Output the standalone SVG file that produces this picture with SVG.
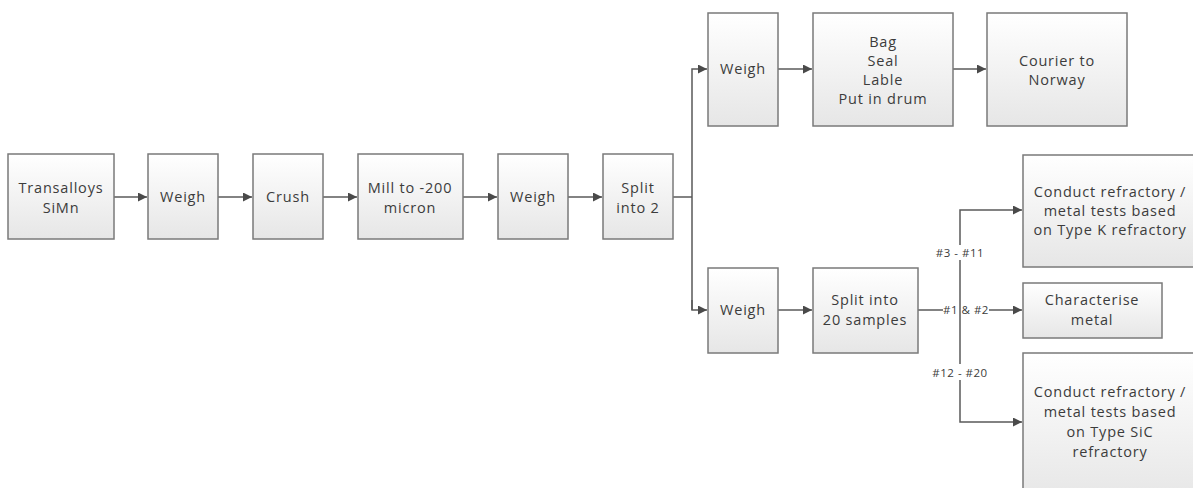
<svg xmlns="http://www.w3.org/2000/svg" width="1193" height="488" viewBox="0 0 1193 488">
<style>
.box{fill:url(#g);stroke:#7a7a7a;stroke-width:1.5}
.t{font-family:"Open Sans","Liberation Sans",sans-serif;font-size:14.5px;letter-spacing:0.8px;fill:#3c3c3c;text-anchor:middle}
.l{font-family:"Open Sans","Liberation Sans",sans-serif;font-size:11.5px;letter-spacing:0.5px;fill:#3c3c3c;text-anchor:middle}
.c{fill:none;stroke:#5a5a5a;stroke-width:1.5}
</style>
<defs>
<linearGradient id="g" x1="0" y1="0" x2="0" y2="1"><stop offset="0" stop-color="#ffffff"/><stop offset="1" stop-color="#e6e6e6"/></linearGradient>
<marker id="a" viewBox="0 0 10 10" refX="10" refY="5" markerWidth="10" markerHeight="9" markerUnits="userSpaceOnUse" orient="auto"><path d="M0,0 L10,5 L0,10 z" fill="#4a4a4a"/></marker>
</defs>
<rect width="1193" height="488" fill="#fff"/>
<g id="connectors">
<path class="c" d="M114,197 H147" marker-end="url(#a)"/>
<path class="c" d="M218,197 H252" marker-end="url(#a)"/>
<path class="c" d="M323,197 H357" marker-end="url(#a)"/>
<path class="c" d="M463,197 H497" marker-end="url(#a)"/>
<path class="c" d="M568,197 H602" marker-end="url(#a)"/>
<path class="c" d="M673,197 H692"/>
<path class="c" d="M692,310 V69 H707" marker-end="url(#a)"/>
<path class="c" d="M692,300 V310 H707" marker-end="url(#a)"/>
<path class="c" d="M778,69 H812" marker-end="url(#a)"/>
<path class="c" d="M953,69 H986" marker-end="url(#a)"/>
<path class="c" d="M778,310 H812" marker-end="url(#a)"/>
<path class="c" d="M918,310 H943"/>
<path class="c" d="M989,310 H1022" marker-end="url(#a)"/>
<path class="c" d="M960,245 V210 H1022" marker-end="url(#a)"/>
<path class="c" d="M960,260 V364"/>
<path class="c" d="M960,380 V422 H1022" marker-end="url(#a)"/>
<text class="l" x="960" y="257">#3 - #11</text>
<text class="l" x="966" y="314">#1 &amp; #2</text>
<text class="l" x="960" y="377">#12 - #20</text>
</g>
<g id="n1"><rect class="box" x="8" y="154" width="106" height="85"/><text class="t" x="61" y="193">Transalloys</text><text class="t" x="61" y="213">SiMn</text></g>
<g id="n2"><rect class="box" x="148" y="154" width="70" height="85"/><text class="t" x="183" y="202">Weigh</text></g>
<g id="n3"><rect class="box" x="253" y="154" width="70" height="85"/><text class="t" x="288" y="202">Crush</text></g>
<g id="n4"><rect class="box" x="358" y="154" width="105" height="85"/><text class="t" x="410" y="193">Mill to -200</text><text class="t" x="410" y="213">micron</text></g>
<g id="n5"><rect class="box" x="498" y="154" width="70" height="85"/><text class="t" x="533" y="202">Weigh</text></g>
<g id="n6"><rect class="box" x="603" y="154" width="70" height="85"/><text class="t" x="638" y="193">Split</text><text class="t" x="638" y="213">into 2</text></g>
<g id="n7"><rect class="box" x="708" y="13" width="70" height="113"/><text class="t" x="743" y="74">Weigh</text></g>
<g id="n8"><rect class="box" x="813" y="13" width="140" height="113"/><text class="t" x="883" y="47">Bag</text><text class="t" x="883" y="66">Seal</text><text class="t" x="883" y="85">Lable</text><text class="t" x="883" y="104">Put in drum</text></g>
<g id="n9"><rect class="box" x="987" y="13" width="140" height="113"/><text class="t" x="1057" y="66">Courier to</text><text class="t" x="1057" y="85">Norway</text></g>
<g id="n10"><rect class="box" x="708" y="268" width="70" height="85"/><text class="t" x="743" y="315">Weigh</text></g>
<g id="n11"><rect class="box" x="813" y="268" width="105" height="85"/><text class="t" x="865" y="305">Split into</text><text class="t" x="865" y="325">20 samples</text></g>
<g id="n12"><rect class="box" x="1023" y="155" width="180" height="112"/><text class="t" x="1110" y="197">Conduct refractory /</text><text class="t" x="1110" y="216">metal tests based</text><text class="t" x="1110" y="235">on Type K refractory</text></g>
<g id="n13"><rect class="box" x="1023" y="283" width="139" height="55"/><text class="t" x="1092" y="305">Characterise</text><text class="t" x="1092" y="325">metal</text></g>
<g id="n14"><rect class="box" x="1023" y="353" width="180" height="150"/><text class="t" x="1110" y="397">Conduct refractory /</text><text class="t" x="1110" y="417">metal tests based</text><text class="t" x="1110" y="437">on Type SiC</text><text class="t" x="1110" y="457">refractory</text></g>
</svg>
